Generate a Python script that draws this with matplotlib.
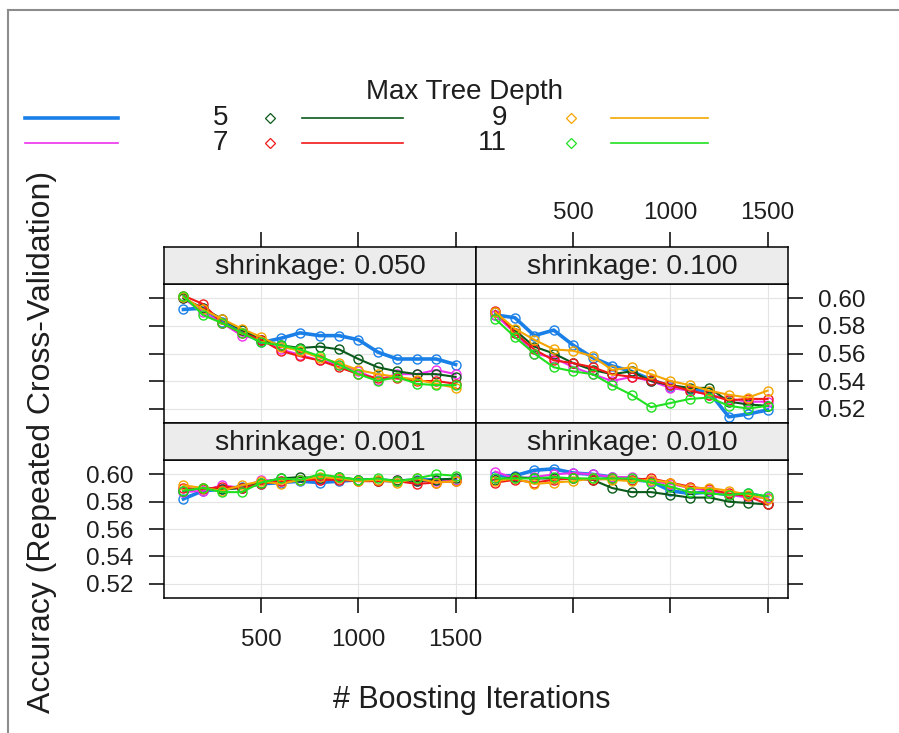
import numpy as np
import matplotlib.pyplot as plt
from matplotlib.lines import Line2D

plt.rcParams['font.family'] = ['Liberation Sans', 'DejaVu Sans']

W, H = 899, 733

iterations = [100, 200, 300, 400, 500, 600, 700, 800, 900, 1000, 1100, 1200, 1300, 1400, 1500]
depths = [1, 3, 5, 7, 9, 11]
colors = ['#1a80e8', '#ee30ee', '#0a5a1a', '#f01818', '#f5a500', '#20e020']

# accuracy, one row per tree depth (1, 3, 5, 7, 9, 11)
acc_shrink_0050 = [
    [0.592, 0.593, 0.583, 0.577, 0.568, 0.571, 0.575, 0.573, 0.573, 0.570, 0.561, 0.556, 0.556, 0.556, 0.552],
    [0.600, 0.590, 0.582, 0.573, 0.570, 0.563, 0.559, 0.555, 0.552, 0.547, 0.541, 0.545, 0.545, 0.548, 0.545],
    [0.600, 0.593, 0.585, 0.577, 0.570, 0.566, 0.564, 0.565, 0.563, 0.556, 0.550, 0.547, 0.545, 0.545, 0.543],
    [0.602, 0.596, 0.582, 0.575, 0.570, 0.562, 0.558, 0.555, 0.550, 0.545, 0.542, 0.542, 0.540, 0.540, 0.538],
    [0.601, 0.592, 0.585, 0.578, 0.572, 0.565, 0.562, 0.557, 0.553, 0.548, 0.545, 0.543, 0.541, 0.538, 0.535],
    [0.602, 0.588, 0.582, 0.575, 0.568, 0.566, 0.563, 0.558, 0.552, 0.545, 0.540, 0.543, 0.538, 0.537, 0.537],
]
acc_shrink_0100 = [
    [0.588, 0.586, 0.573, 0.577, 0.566, 0.557, 0.551, 0.547, 0.541, 0.536, 0.534, 0.532, 0.514, 0.516, 0.519],
    [0.588, 0.575, 0.560, 0.557, 0.550, 0.545, 0.540, 0.543, 0.540, 0.535, 0.533, 0.530, 0.527, 0.525, 0.525],
    [0.590, 0.577, 0.565, 0.560, 0.553, 0.548, 0.545, 0.547, 0.540, 0.537, 0.535, 0.535, 0.525, 0.523, 0.522],
    [0.591, 0.575, 0.563, 0.555, 0.553, 0.550, 0.545, 0.543, 0.541, 0.537, 0.533, 0.530, 0.526, 0.527, 0.527],
    [0.590, 0.578, 0.570, 0.563, 0.562, 0.558, 0.548, 0.550, 0.545, 0.540, 0.537, 0.533, 0.530, 0.528, 0.533],
    [0.585, 0.572, 0.560, 0.550, 0.547, 0.545, 0.537, 0.530, 0.521, 0.524, 0.527, 0.528, 0.522, 0.520, 0.522],
]
acc_shrink_0001 = [
    [0.582, 0.588, 0.589, 0.591, 0.593, 0.594, 0.595, 0.594, 0.595, 0.596, 0.596, 0.595, 0.596, 0.596, 0.596],
    [0.587, 0.588, 0.592, 0.590, 0.596, 0.595, 0.596, 0.596, 0.597, 0.596, 0.595, 0.596, 0.595, 0.595, 0.596],
    [0.588, 0.590, 0.589, 0.590, 0.594, 0.597, 0.598, 0.597, 0.598, 0.596, 0.595, 0.596, 0.595, 0.596, 0.597],
    [0.590, 0.589, 0.591, 0.590, 0.593, 0.595, 0.596, 0.596, 0.596, 0.595, 0.595, 0.595, 0.593, 0.594, 0.595],
    [0.592, 0.590, 0.588, 0.592, 0.595, 0.593, 0.596, 0.598, 0.597, 0.595, 0.596, 0.594, 0.597, 0.594, 0.595],
    [0.588, 0.590, 0.587, 0.587, 0.594, 0.597, 0.596, 0.600, 0.598, 0.596, 0.597, 0.595, 0.597, 0.600, 0.599],
]
acc_shrink_0010 = [
    [0.599, 0.599, 0.603, 0.604, 0.601, 0.600, 0.598, 0.596, 0.595, 0.588, 0.586, 0.587, 0.585, 0.586, 0.583],
    [0.602, 0.597, 0.598, 0.600, 0.601, 0.600, 0.598, 0.598, 0.595, 0.593, 0.590, 0.588, 0.585, 0.583, 0.583],
    [0.596, 0.598, 0.597, 0.597, 0.597, 0.596, 0.590, 0.587, 0.587, 0.585, 0.583, 0.583, 0.580, 0.579, 0.578],
    [0.594, 0.596, 0.594, 0.596, 0.597, 0.596, 0.597, 0.596, 0.597, 0.594, 0.591, 0.589, 0.586, 0.584, 0.578],
    [0.595, 0.597, 0.593, 0.594, 0.595, 0.597, 0.596, 0.595, 0.596, 0.594, 0.590, 0.590, 0.588, 0.585, 0.582],
    [0.597, 0.597, 0.597, 0.598, 0.597, 0.597, 0.597, 0.597, 0.594, 0.591, 0.587, 0.586, 0.585, 0.586, 0.584],
]

x_ticks = [500, 1000, 1500]
y_ticks = [0.52, 0.54, 0.56, 0.58, 0.60]
y_tick_labels = ['0.52', '0.54', '0.56', '0.58', '0.60']


def rect(x0, y0, x1, y1):
    # pixel box (top-left origin) -> figure fraction
    return [x0 / W, 1 - y1 / H, (x1 - x0) / W, (y1 - y0) / H]


fig = plt.figure(figsize=(W / 100, H / 100), dpi=100)

TICK_LEN = 10.8
TICK_W = 1.1
TICK_FS = 17.5
TXT = '#1e1e1e'

# panel layout: (label, data, column, row)
panels = [
    ('shrinkage: 0.050', acc_shrink_0050, 0, 0),
    ('shrinkage: 0.100', acc_shrink_0100, 1, 0),
    ('shrinkage: 0.001', acc_shrink_0001, 0, 1),
    ('shrinkage: 0.010', acc_shrink_0010, 1, 1),
]
col_x = [(164, 476), (476, 788)]
row_y = [(247, 284, 423), (423, 460, 598)]

for label, data, c, r in panels:
    x0, x1 = col_x[c]
    s0, s1, p1 = row_y[r]

    ax = fig.add_axes(rect(x0, s1, x1, p1))
    for i, d in enumerate(depths):
        ax.plot(iterations, data[i], color=colors[i], lw=2.6 if i == 0 else 1.5,
                marker='o', ms=6.5, mfc='none', mew=1.0, zorder=3)
    ax.set_xlim(0, 1605)
    ax.set_ylim(0.5095, 0.6105)
    ax.set_xticks(x_ticks)
    ax.set_yticks(y_ticks)
    ax.set_yticklabels(y_tick_labels)
    ax.grid(color='#e4e4e4', lw=0.8, zorder=0)
    ax.set_axisbelow(True)
    for sp in ax.spines.values():
        sp.set_linewidth(1.1)
    ax.tick_params(length=TICK_LEN, width=TICK_W, labelsize=TICK_FS, direction='out', labelcolor=TXT)
    ax.tick_params(axis='x', top=False, labeltop=False,
                   bottom=(r == 1), labelbottom=(r == 1 and c == 0), pad=11.5)
    if c == 0:
        ax.tick_params(axis='y', left=True, right=False, labelleft=(r == 1), labelright=False, pad=11.5)
    else:
        ax.tick_params(axis='y', left=False, right=True, labelleft=False, labelright=(r == 0), pad=10.5)

    sax = fig.add_axes(rect(x0, s0, x1, s1))
    sax.set_facecolor('#ececec')
    sax.set_xlim(0, 1605)
    sax.set_yticks([])
    for sp in sax.spines.values():
        sp.set_linewidth(1.1)
    sax.text(0.5, 0.45, label, transform=sax.transAxes, ha='center', va='center', fontsize=20.5, color=TXT)
    if r == 0:
        sax.set_xticks(x_ticks)
        sax.tick_params(axis='x', bottom=False, labelbottom=False, top=True, labelcolor=TXT,
                        labeltop=(c == 1), length=TICK_LEN, width=TICK_W, labelsize=TICK_FS, pad=6)
    else:
        sax.set_xticks([])

# overlay for frame and key
lax = fig.add_axes([0, 0, 1, 1], zorder=-1)
lax.set_xlim(0, W)
lax.set_ylim(H, 0)
lax.axis('off')
lax.plot([8, W], [10, 10], color='#8c8c8c', lw=1.5)
lax.plot([8, 8], [10, H], color='#8c8c8c', lw=1.5)

lax.text(464, 92, 'Max Tree Depth', ha='center', va='center', fontsize=20, color=TXT)
key_rows = [118, 143]
key_groups = [(None, None, (25, 118)), (228, 270, (302, 403)), (507, 571, (611, 708))]
for g, (tx, px, (lx0, lx1)) in enumerate(key_groups):
    for k, y in enumerate(key_rows):
        i = g * 2 + k
        lax.add_line(Line2D([lx0, lx1], [y, y], color=colors[i], lw=2.6 if i == 0 else 1.2))
        if tx is not None:
            lax.text(tx, y, str(depths[i]), ha='right', va='center', fontsize=20, color=TXT)
            lax.plot(px, y, marker='D', ms=5, mfc='none', mec=colors[i], mew=0.9)

fig.text(42 / W, 1 - 442 / H, 'Accuracy (Repeated Cross-Validation)', rotation=90,
         ha='center', va='center', fontsize=23, color=TXT)
fig.text(472 / W, 1 - 700 / H, '# Boosting Iterations', ha='center', va='center',
         fontsize=22, color=TXT)

fig.savefig('out.png', dpi=100)
